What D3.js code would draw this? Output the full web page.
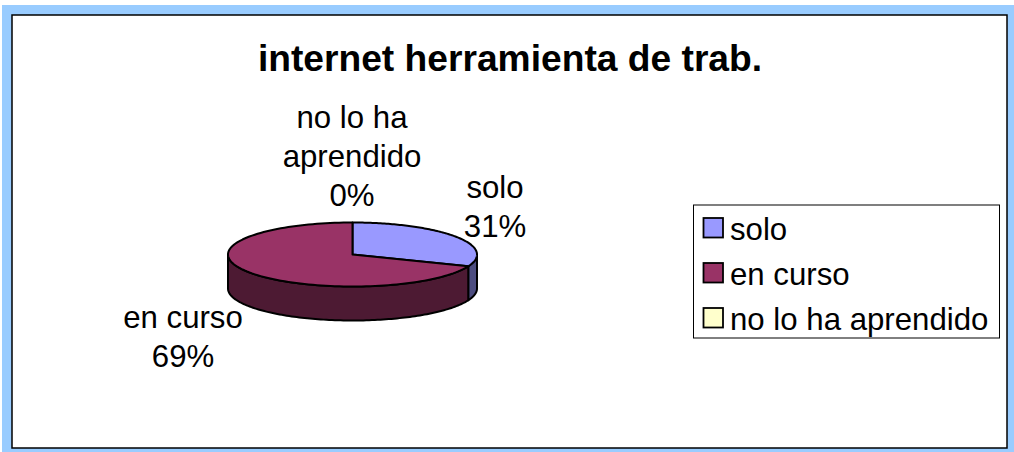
<!DOCTYPE html>
<html><head><meta charset="utf-8"><script src="https://cdn.jsdelivr.net/npm/d3@7"></script>
<style>html,body{margin:0;padding:0;background:#fff}svg{display:block}text{font-family:"Liberation Sans",Arial,sans-serif;fill:#000}</style>
</head><body><svg id="c" width="1014" height="452"></svg>
<script>
const title = "internet herramienta de trab.";
const categories = ["solo", "en curso", "no lo ha aprendido"];
const values = [31, 69, 0];
const topColors = ["#9999ff", "#993366", "#ffffcc"];
const sideColors = ["#4d4d80", "#4d1a33", "#808066"];
const labelLines = [["solo", "31%"], ["en curso", "69%"], ["no lo ha", "aprendido", "0%"]];

const svg = d3.select("#c");
svg.append("rect").attr("x",2).attr("y",5).attr("width",1012).attr("height",447).attr("fill","#99ccff");
svg.append("rect").attr("x",12).attr("y",15).attr("width",995).attr("height",433).attr("fill","#fff").attr("stroke","#000").attr("stroke-width",1.5);
svg.append("text").attr("x",510).attr("y",71).attr("text-anchor","middle").attr("font-weight","bold").attr("font-size",37.2).text(title);

const cx = 352.5, cy = 254.5, rx = 124.5, ry = 32, depth = 34;
const arcs = d3.pie().value(d=>d).sort(null)(values);
const px = d3.scaleLinear().domain([-1,1]).range([cx-rx,cx+rx]);
const py = d3.scaleLinear().domain([-1,1]).range([cy-ry,cy+ry]);
const line = d3.line().x(d=>d[0]).y(d=>d[1]);
const pt = (a,dz=0)=>[px(Math.sin(a)), py(-Math.cos(a))+dz];
const steps = (a0,a1)=>d3.range(0,121).map(i=>a0+(a1-a0)*i/120);
const g = svg.append("g").attr("stroke","#000").attr("stroke-width",2).attr("stroke-linejoin","round");
arcs.forEach((d,i)=>{
  const a0=Math.max(d.startAngle,Math.PI/2), a1=Math.min(d.endAngle,Math.PI*1.5);
  if(a1<=a0) return;
  const s=steps(a0,a1);
  g.append("path").attr("fill",sideColors[i])
    .attr("d",line([...s.map(a=>pt(a)),...s.reverse().map(a=>pt(a,depth))])+"Z");
});
arcs.forEach((d,i)=>{
  if(d.endAngle-d.startAngle<=0) return;
  g.append("path").attr("fill",topColors[i])
    .attr("d",line([[cx,cy],...steps(d.startAngle,d.endAngle).map(a=>pt(a))])+"Z");
});
const labelPos = [[495,198],[183,328],[352,128]];
const lh = 39.2;
labelLines.forEach((ls,i)=>{
  const t=svg.append("text").attr("text-anchor","middle").attr("font-size",31.2);
  ls.forEach((s,j)=>t.append("tspan").attr("x",labelPos[i][0]).attr("y",labelPos[i][1]+j*lh).text(s));
});
const lg=svg.append("g");
lg.append("rect").attr("x",693.5).attr("y",205).attr("width",306).attr("height",133).attr("fill","#fff").attr("stroke","#000").attr("stroke-width",1);
const ly=d3.scalePoint().domain(categories).range([228,318]);
categories.forEach((c,i)=>{
  lg.append("rect").attr("x",703.5).attr("y",ly(c)-10).attr("width",19.5).attr("height",19.5).attr("fill",topColors[i]).attr("stroke","#000").attr("stroke-width",1.8);
  lg.append("text").attr("x",730).attr("y",ly(c)+12).attr("font-size",31.2).text(c);
});
</script></body></html>
